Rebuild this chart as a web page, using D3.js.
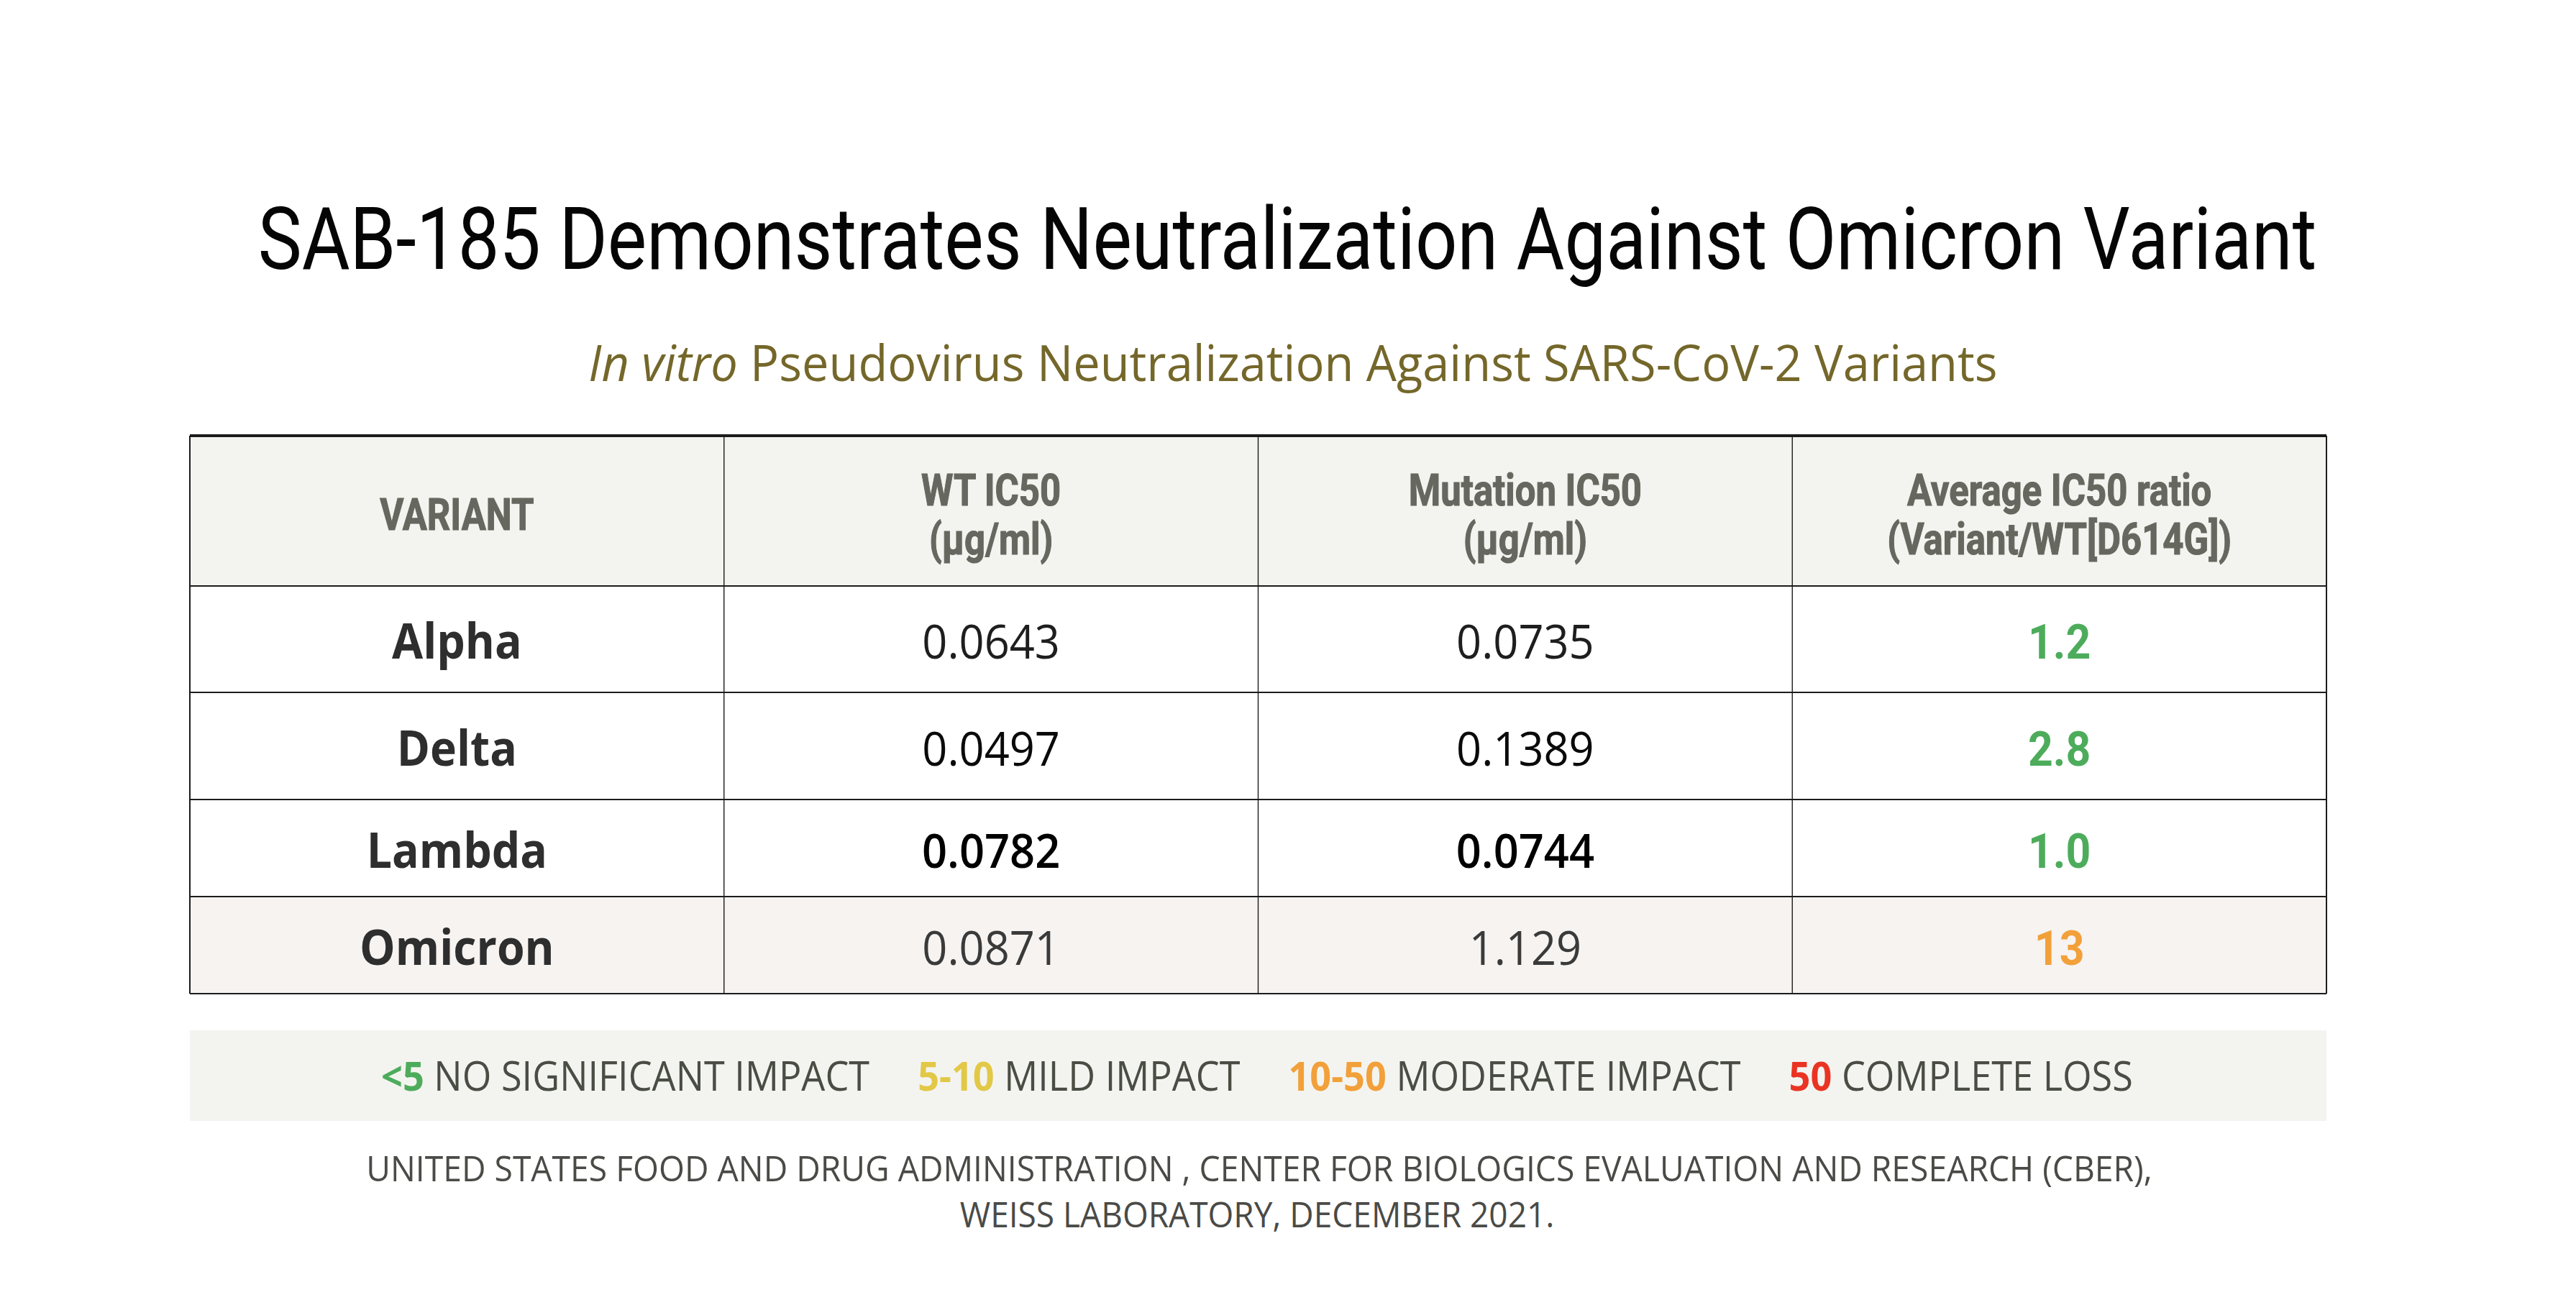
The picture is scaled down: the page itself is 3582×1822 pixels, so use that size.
<!DOCTYPE html>
<html><head><meta charset="utf-8">
<script src="https://cdn.jsdelivr.net/npm/d3@7"></script>
<style>html,body{margin:0;padding:0;background:#fff;} svg{display:block;}</style>
</head><body>
<svg id="chart" width="3582" height="1822"></svg>
<script>
// ---------- data ----------
const title = "SAB-185 Demonstrates Neutralization Against Omicron Variant";
const subtitleItalic = "In vitro";
const subtitleRest = " Pseudovirus Neutralization Against SARS-CoV-2 Variants";
const columnKeys = ["variant", "wt", "mutation", "ratio"];
const columnHeaders = [["VARIANT"], ["WT IC50", "(µg/ml)"], ["Mutation IC50", "(µg/ml)"], ["Average IC50 ratio", "(Variant/WT[D614G])"]];
const variants = ["Alpha", "Delta", "Lambda", "Omicron"];
const wtIC50 = ["0.0643", "0.0497", "0.0782", "0.0871"];
const mutationIC50 = ["0.0735", "0.1389", "0.0744", "1.129"];
const ratios = ["1.2", "2.8", "1.0", "13"];
const legendRanges = ["<5", "5-10", "10-50", "50"];
const legendLabels = ["NO SIGNIFICANT IMPACT", "MILD IMPACT", "MODERATE IMPACT", "COMPLETE LOSS"];
const impactThresholds = [5, 10, 50];
const footnote = ["UNITED STATES FOOD AND DRUG ADMINISTRATION , CENTER FOR BIOLOGICS EVALUATION AND RESEARCH (CBER),",
                  "WEISS LABORATORY, DECEMBER 2021."];

// ---------- layout & style ----------
const svg = d3.select("#chart");
const impactColor = d3.scaleThreshold().domain(impactThresholds)
  .range(["#4dac5b", "#e2c847", "#f2a03a", "#ea3323"]);
const tableLeft = 264, tableRight = 3235, tableTop = 606;
const rowHeights = [209, 148, 149, 135, 135]; // header + 4 body rows
const rowKeys = ["header"].concat(variants);
const rowTops = [tableTop];
rowHeights.forEach((h, i) => rowTops.push(rowTops[i] + h));
const yTop = d3.scaleOrdinal().domain(rowKeys).range(rowTops);
const yH = d3.scaleOrdinal().domain(rowKeys).range(rowHeights);
const x = d3.scaleBand().domain(columnKeys).range([tableLeft, tableRight]).paddingInner(0).paddingOuter(0);
const cx = k => x(k) + x.bandwidth() / 2;

// place a text centred at (xc, yb) and squeeze it horizontally to a target width
function squeezed(parent, xc, yb, w, build) {
  const g = parent.append("g");
  const t = g.append("text").attr("text-anchor", "middle");
  build(t);
  const nat = t.node().getComputedTextLength();
  const sx = Math.min(1, w / nat);
  g.attr("transform", `translate(${xc},${yb}) scale(${sx},1)`);
  return g;
}

// ---------- title ----------
squeezed(svg, 1790, 374, 2863, t => t
  .style("font-family", "Roboto").style("font-size", "120px").style("font-weight", 400)
  .attr("fill", "#050505").text(title));

squeezed(svg, 1798, 530, 1960, t => {
  t.style("font-family", "Open Sans").style("font-size", "70px").attr("fill", "#74672a");
  t.append("tspan").style("font-style", "italic").text(subtitleItalic);
  t.append("tspan").text(subtitleRest);
});

// ---------- table backgrounds ----------
svg.append("rect")
  .attr("x", tableLeft).attr("y", yTop("header"))
  .attr("width", tableRight - tableLeft).attr("height", yH("header"))
  .attr("fill", "#f3f3ef");
svg.append("rect")
  .attr("x", tableLeft).attr("y", yTop("Omicron"))
  .attr("width", tableRight - tableLeft).attr("height", yH("Omicron"))
  .attr("fill", "#f6f3f1");

// ---------- header text ----------
const headerCapCenter = yTop("header") + 109;
const headerCap = 44, headerLine = 68;
columnKeys.forEach((k, ci) => {
  const lines = columnHeaders[ci];
  lines.forEach((ln, li) => {
    const yb = headerCapCenter + headerCap / 2 + (li - (lines.length - 1) / 2) * headerLine;
    svg.append("g").attr("transform", `translate(${cx(k)},${yb}) scale(0.82,1)`)
      .append("text")
      .attr("text-anchor", "middle")
      .style("font-family", "Roboto").style("font-size", "62px").style("font-weight", 700)
      .attr("fill", "#66675f")
      .attr("stroke", "#66675f").attr("stroke-width", 1.2)
      .text(ln);
  });
});

// ---------- body ----------
const numStyle = [
  {fill: "#1e1e1e", w: 400},
  {fill: "#0a0a0a", w: 400},
  {fill: "#000000", w: 600},
  {fill: "#3a3a3a", w: 400}
];
variants.forEach((v, ri) => {
  const yc = yTop(v) + yH(v) / 2;
  const yb = yc + 27;
  svg.append("g").attr("transform", `translate(${cx("variant")},${yb}) scale(0.92,1)`)
    .append("text").attr("text-anchor", "middle")
    .style("font-family", "Open Sans").style("font-size", "68px").style("font-weight", 700)
    .attr("fill", "#2e2e2e").text(v);
  [["wt", wtIC50[ri]], ["mutation", mutationIC50[ri]]].forEach(([k, val]) => {
    svg.append("g").attr("transform", `translate(${cx(k)},${yb}) scale(0.93,1)`)
      .append("text").attr("text-anchor", "middle")
      .style("font-family", "Open Sans").style("font-size", "66px").style("font-weight", numStyle[ri].w)
      .attr("fill", numStyle[ri].fill).text(val);
  });
  svg.append("g").attr("transform", `translate(${cx("ratio")},${yb}) scale(0.92,1)`)
    .append("text").attr("text-anchor", "middle")
    .style("font-family", "Roboto").style("font-size", "66px").style("font-weight", 700)
    .attr("fill", impactColor(+ratios[ri])).text(ratios[ri]);
});

// ---------- grid lines ----------
const lineColor = "#1c1c1c";
rowTops.forEach((yv, i) => {
  svg.append("line")
    .attr("x1", tableLeft).attr("x2", tableRight)
    .attr("y1", yv).attr("y2", yv)
    .attr("stroke", lineColor)
    .attr("stroke-width", i === 0 ? 4 : 2.2);
});
columnKeys.map(k => x(k)).concat([tableRight]).forEach((xv, i) => {
  svg.append("line")
    .attr("x1", xv).attr("x2", xv)
    .attr("y1", tableTop).attr("y2", rowTops[rowTops.length - 1])
    .attr("stroke", lineColor)
    .attr("stroke-width", (i === 0 || i === columnKeys.length) ? 2 : 1.4);
});

// ---------- legend band ----------
svg.append("rect")
  .attr("x", tableLeft).attr("y", 1433)
  .attr("width", tableRight - tableLeft).attr("height", 126)
  .attr("fill", "#f3f4f0");
const legendGroups = legendRanges.map((r, i) => {
  const g = svg.append("g");
  const t = g.append("text")
    .style("font-family", "Open Sans").style("font-size", "56px");
  t.append("tspan").style("font-weight", 700).attr("fill", impactColor(i === 0 ? 1 : impactThresholds[i - 1])).text(r);
  t.append("tspan").attr("fill", "#4a4d44").text(" " + legendLabels[i]);
  return {g, w: t.node().getComputedTextLength()};
});
const legendGap = 67, legendStart = 530, legendEnd = 2966;
const factor = (legendEnd - legendStart - legendGap * (legendGroups.length - 1)) / d3.sum(legendGroups, d => d.w);
let lx = legendStart;
legendGroups.forEach(d => {
  d.g.attr("transform", `translate(${lx},1517) scale(${factor},1)`);
  lx += d.w * factor + legendGap;
});

// ---------- footnote ----------
const footCenters = [1751, 1748], footWidths = [2484, 827], footBase = [1643, 1707];
footnote.forEach((ln, i) => {
  squeezed(svg, footCenters[i], footBase[i], footWidths[i], t => t
    .style("font-family", "Open Sans").style("font-size", "50px")
    .attr("fill", "#4a4a47").text(ln));
});
</script>
</body></html>
